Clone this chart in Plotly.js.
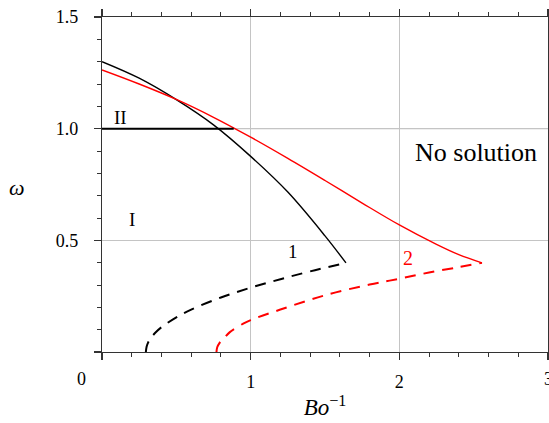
<!DOCTYPE html>
<html>
<head>
<meta charset="utf-8">
<script src="https://cdn.plot.ly/plotly-3.0.1.min.js"></script>
<style>html,body{margin:0;padding:0;background:#fff;}#chart{width:549px;height:423px;}</style>
</head>
<body>
<div id="chart"></div>
<script>
// Curve 1 (black, solid upper branch)
const c1UpperX = [0, 0.25, 0.5, 0.75, 1.0, 1.25, 1.5, 1.641];
const c1UpperY = [1.30, 1.226, 1.13, 1.017, 0.876, 0.716, 0.52, 0.399];
// Curve 1 (black, dashed lower branch)
const c1LowerX = [0.295, 0.30, 0.31, 0.33, 0.36, 0.40, 0.5, 0.6, 0.8, 1.0, 1.2, 1.4, 1.641];
const c1LowerY = [0, 0.024, 0.042, 0.064, 0.087, 0.111, 0.155, 0.19, 0.244, 0.288, 0.326, 0.361, 0.399];
// Curve 2 (red, solid upper branch)
const c2UpperX = [0, 0.25, 0.5, 0.75, 1.0, 1.25, 1.5, 1.75, 2.0, 2.25, 2.4, 2.556];
const c2UpperY = [1.263, 1.20, 1.131, 1.051, 0.962, 0.867, 0.768, 0.667, 0.569, 0.482, 0.436, 0.399];
// Curve 2 (red, dashed lower branch)
const c2LowerX = [0.77, 0.775, 0.79, 0.82, 0.86, 0.95, 1.0, 1.2, 1.5, 1.8, 2.0, 2.2, 2.4, 2.556];
const c2LowerY = [0, 0.021, 0.04, 0.061, 0.089, 0.127, 0.143, 0.19, 0.254, 0.302, 0.328, 0.356, 0.38, 0.399];
// Boundary of region II
const regionIIX = [0, 0.886];
const regionIIY = [1.0, 1.0];

const xTickVals = [0, 1, 2, 3];
const xTickText = ['', '1', '2', ''];
const yTickVals = [0, 0.5, 1.0, 1.5];
const yTickText = ['', '0.5', '1.0', '1.5'];

const serif = '"Liberation Serif", "Times New Roman", Times, serif';

const traces = [
  {x: c1UpperX, y: c1UpperY, mode: 'lines', line: {color: '#000', width: 1.4, shape: 'spline', smoothing: 1}},
  {x: c1LowerX, y: c1LowerY, mode: 'lines', line: {color: '#000', width: 2, dash: '11px,8px', shape: 'spline'}},
  {x: c2UpperX, y: c2UpperY, mode: 'lines', line: {color: '#ff0000', width: 1.4, shape: 'spline', smoothing: 1}},
  {x: c2LowerX, y: c2LowerY, mode: 'lines', line: {color: '#ff0000', width: 2, dash: '11px,8px', shape: 'spline'}},
  {x: regionIIX, y: regionIIY, mode: 'lines', line: {color: '#000', width: 2}}
];

const axisCommon = {
  showline: true, linecolor: '#333', linewidth: 1.2, mirror: 'ticks',
  ticks: 'outside', ticklen: 7, tickwidth: 1.2, tickcolor: '#333',
  showgrid: true, gridcolor: '#c4c4c4', gridwidth: 1, zeroline: false,
  tickfont: {family: serif, size: 18, color: '#000'}
};

const layout = {
  width: 549, height: 423,
  margin: {l: 102, r: 1, t: 17, b: 71},
  paper_bgcolor: '#fff', plot_bgcolor: '#fff',
  showlegend: false,
  xaxis: Object.assign({}, axisCommon, {
    range: [0, 3], tickmode: 'array', tickvals: xTickVals, ticktext: xTickText,
    ticklabelstandoff: 6,
    minor: {dtick: 0.2, ticklen: 4, tickcolor: '#333', tickwidth: 1, showgrid: false},
    title: {text: '<i>Bo</i><sup>−1</sup>', font: {family: serif, size: 23, color: '#000'}, standoff: 8}
  }),
  yaxis: Object.assign({}, axisCommon, {
    range: [0, 1.5], tickmode: 'array', tickvals: yTickVals, ticktext: yTickText,
    ticklabelstandoff: 12,
    minor: {dtick: 0.1, ticklen: 4, tickcolor: '#333', tickwidth: 1, showgrid: false}
  }),
  shapes: [
    {type: 'line', xref: 'paper', yref: 'y', x0: 0, x1: 1, y0: 1.0, y1: 1.0, line: {color: '#9a9a9a', width: 1}, layer: 'below'}
  ],
  annotations: [
    {text: '0', xref: 'x', yref: 'y', x: 0, y: 0, xshift: -21, yshift: -27, showarrow: false, font: {family: serif, size: 18, color: '#000'}},
    {text: '3', xref: 'x', yref: 'y', x: 3, y: 0, xshift: 0, yshift: -27, showarrow: false, font: {family: serif, size: 18, color: '#000'}},
    {text: '<i>ω</i>', xref: 'paper', yref: 'paper', x: -0.19, y: 0.49, xanchor: 'center', yanchor: 'middle', showarrow: false, font: {family: serif, size: 22, color: '#000'}},
    {text: 'II', xref: 'x', yref: 'y', x: 0.125, y: 1.05, showarrow: false, font: {family: serif, size: 19, color: '#000'}},
    {text: 'I', xref: 'x', yref: 'y', x: 0.205, y: 0.593, showarrow: false, font: {family: serif, size: 19, color: '#000'}},
    {text: '1', xref: 'x', yref: 'y', x: 1.284, y: 0.448, showarrow: false, font: {family: serif, size: 19, color: '#000'}},
    {text: '2', xref: 'x', yref: 'y', x: 2.06, y: 0.421, showarrow: false, font: {family: serif, size: 20, color: '#ff0000'}},
    {text: 'No solution', xref: 'x', yref: 'y', x: 2.514, y: 0.893, showarrow: false, font: {family: serif, size: 26, color: '#000'}}
  ]
};

Plotly.newPlot('chart', traces, layout, {displayModeBar: false, staticPlot: true});
</script>
</body>
</html>
